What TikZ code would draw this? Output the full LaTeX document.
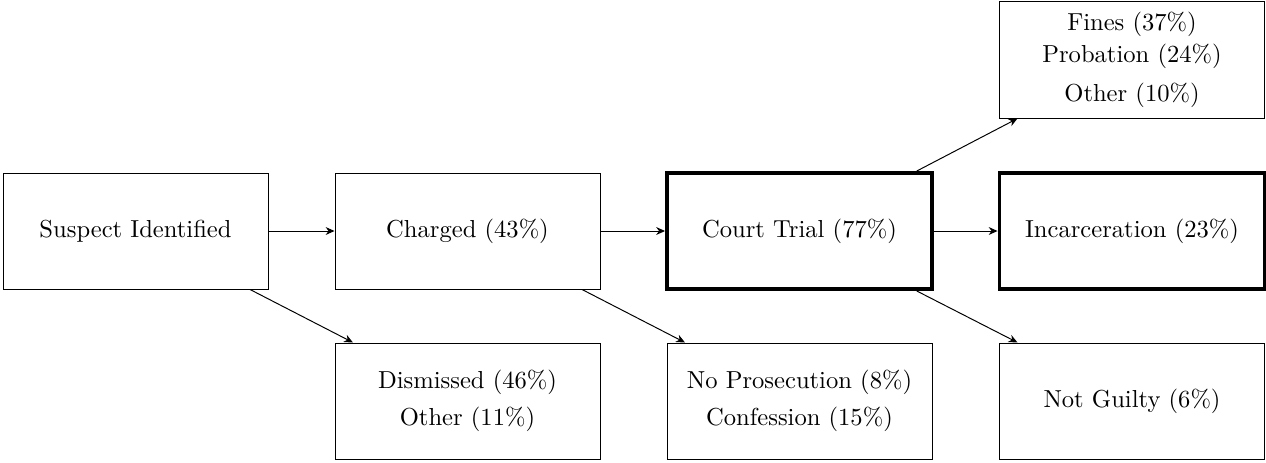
\documentclass[tikz,border=0pt]{standalone}
\usetikzlibrary{arrows.meta}
\begin{document}
\begin{tikzpicture}[x=0.4068pt,y=-0.4068pt,
  box/.style={draw, minimum width=107.8pt, minimum height=47.2pt, align=center, inner sep=0pt},
  key/.style={box, ultra thick},
  arr/.style={-{Stealth[length=3.6pt,width=3.2pt]}}]
\useasboundingbox (0,0) rectangle (1266,462);
\node[box] (s) at (135.5,231) {Suspect Identified};
\node[box] (c) at (467.5,231) {Charged (43\%)};
\node[key] (t) at (799.5,231) {Court Trial (77\%)};
\node[key] (i) at (1132,231) {Incarceration (23\%)};
\node[box] (f) at (1132,60) {Fines (37\%)\\[1pt] Probation (24\%)\\[4pt] Other (10\%)};
\node[box] (d) at (467.5,401) {Dismissed (46\%)\\[3pt] Other (11\%)};
\node[box] (n) at (799.5,401) {No Prosecution (8\%)\\[3pt] Confession (15\%)};
\node[box] (g) at (1132,401) {Not Guilty (6\%)};
\draw[arr] (s) -- (c);
\draw[arr] (c) -- (t);
\draw[arr] (t) -- (i);
\draw[arr] ([xshift=-7.5pt]s.south east) -- ([xshift=7.5pt]d.north west);
\draw[arr] ([xshift=-7.5pt]c.south east) -- ([xshift=7.5pt]n.north west);
\draw[arr] ([xshift=-7pt]t.south east) -- ([xshift=7.5pt]g.north west);
\draw[arr] ([xshift=-7pt]t.north east) -- ([xshift=7.5pt]f.south west);
\end{tikzpicture}
\end{document}
